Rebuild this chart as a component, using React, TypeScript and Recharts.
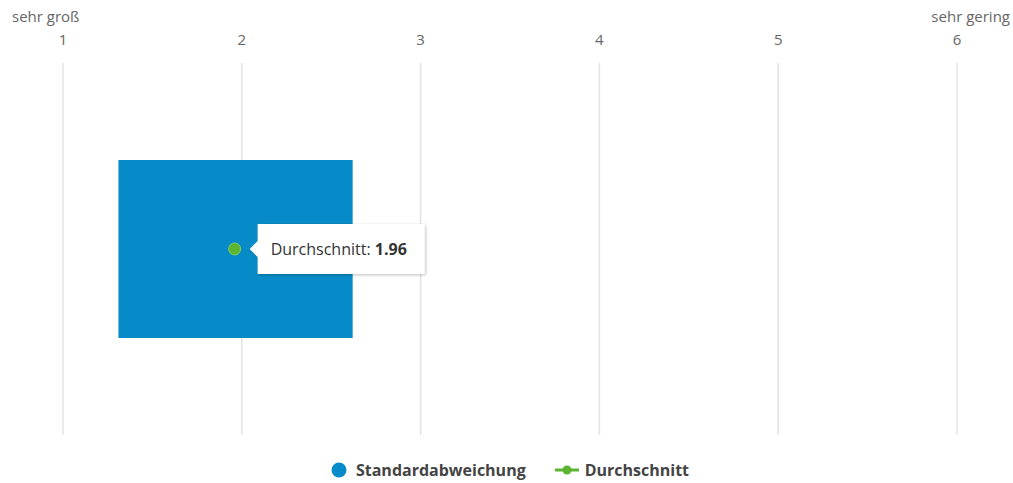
import { ComposedChart, Bar, Line, XAxis, YAxis, CartesianGrid, Legend } from "recharts";

const categories = ["Bewertung"];
const stdLow = [1.31];
const stdHigh = [2.62];
const means = [1.96];
const xTicks = [1, 2, 3, 4, 5, 6];
const edgeLabels = ["sehr groß", "sehr gering"];

const BLUE = "#078bc8";
const GREEN = "#5cb531";
const FONT = "'Open Sans', sans-serif";

const data = categories.map((name, i) => ({
  name,
  range: [stdLow[i], stdHigh[i]],
  mean: means[i],
}));

const TopTick = (props) => {
  const { x, y, payload, index } = props;
  const last = index === xTicks.length - 1;
  return (
    <g>
      {index === 0 && (
        <text x={x - 51} y={y - 33} textAnchor="start" fill="#666" fontSize={15} fontFamily={FONT}>
          {edgeLabels[0]}
        </text>
      )}
      {last && (
        <text x={x + 53} y={y - 33} textAnchor="end" fill="#666" fontSize={15} fontFamily={FONT}>
          {edgeLabels[1]}
        </text>
      )}
      <text x={x} y={y - 10} textAnchor="middle" fill="#666" fontSize={15} fontFamily={FONT}>
        {payload.value}
      </text>
    </g>
  );
};

const MeanDot = (props) => {
  const { cx, cy, value } = props;
  if (cx == null || cy == null) return null;
  const bx = cx + 23;
  return (
    <g>
      <defs>
        <filter id="tipShadow" x="-20%" y="-30%" width="140%" height="160%">
          <feDropShadow dx="1" dy="1" stdDeviation="1.5" floodColor="#000" floodOpacity="0.25" />
        </filter>
      </defs>
      <circle cx={cx} cy={cy} r={6} fill={GREEN} stroke="#7fcf5a" strokeWidth={1} />
      <path
        d={`M${bx} ${cy - 25} H${bx + 167} V${cy + 25} H${bx} V${cy + 8} L${bx - 8} ${cy} L${bx} ${cy - 8} Z`}
        fill="#fff"
        filter="url(#tipShadow)"
      />
      <text x={bx + 13} y={cy + 6} fontSize={16} fontFamily={FONT} fill="#333">
        Durchschnitt: <tspan fontWeight="bold">{Number(value).toFixed(2)}</tspan>
      </text>
    </g>
  );
};

const LegendContent = () => (
  <div
    style={{
      display: "flex",
      justifyContent: "center",
      alignItems: "center",
      paddingTop: 16,
      fontFamily: FONT,
      fontWeight: "bold",
      fontSize: 16,
      color: "#444",
    }}
  >
    <svg width={16} height={16} style={{ marginRight: 9 }}>
      <circle cx={8} cy={8} r={7.5} fill={BLUE} />
    </svg>
    <span style={{ marginRight: 29 }}>Standardabweichung</span>
    <svg width={24} height={14} style={{ marginRight: 6 }}>
      <line x1={0} y1={7} x2={24} y2={7} stroke={GREEN} strokeWidth={3} />
      <circle cx={12} cy={7} r={4.5} fill={GREEN} />
    </svg>
    <span>Durchschnitt</span>
  </div>
);

export default function App() {
  return (
    <div style={{ position: "absolute", left: 0, top: 0, background: "#fff" }}>
      <ComposedChart
        width={1013}
        height={483}
        data={data}
        layout="vertical"
        margin={{ top: 0, right: 56, bottom: 8, left: 63 }}
      >
        <CartesianGrid horizontal={false} stroke="#e3e3e3" strokeWidth={1.5} />
        <XAxis
          type="number"
          dataKey="mean"
          orientation="top"
          domain={[1, 6]}
          ticks={xTicks}
          height={63}
          axisLine={false}
          tickLine={false}
          tick={<TopTick />}
          interval={0}
        />
        <YAxis type="category" dataKey="name" hide width={0} />
        <Legend verticalAlign="bottom" height={40} content={<LegendContent />} wrapperStyle={{ bottom: 0 }} />
        <Bar
          dataKey="range"
          name="Standardabweichung"
          fill={BLUE}
          barSize={178}
          isAnimationActive={false}
          legendType="circle"
        />
        <Line
          dataKey="mean"
          name="Durchschnitt"
          stroke={GREEN}
          dot={<MeanDot />}
          activeDot={false}
          isAnimationActive={false}
        />
      </ComposedChart>
    </div>
  );
}
